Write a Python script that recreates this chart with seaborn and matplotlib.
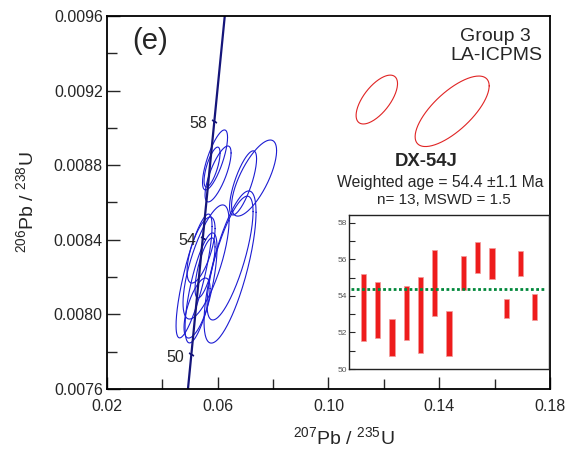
import numpy as np
import seaborn as sns
import matplotlib.pyplot as plt
from matplotlib.ticker import MultipleLocator, FixedLocator, FormatStrFormatter

# concordia curve (age in Ma -> ratios)
conc_age = [46, 50, 54, 58, 62]
conc_x = [0.046345, 0.050475, 0.054622, 0.058784, 0.062963]
conc_y = [0.0071613, 0.0077864, 0.0084119, 0.0090379, 0.0096642]
label_age = [50, 54, 58]

# analyses used (blue) : 207Pb/235U, 206Pb/238U, half extents, correlation
pb207 = [0.05902, 0.05794, 0.06011, 0.07312, 0.06914, 0.06444, 0.06444,
         0.05577, 0.05144, 0.05397, 0.05397, 0.05252, 0.05541]
pb206 = [0.008828, 0.008790, 0.008753, 0.008731, 0.008705, 0.008254, 0.008302,
         0.008281, 0.008206, 0.008142, 0.008345, 0.008034, 0.008249]
err207 = [0.00452, 0.00289, 0.00470, 0.00813, 0.00488, 0.00939, 0.00831,
          0.00831, 0.00650, 0.00578, 0.00506, 0.00470, 0.00361]
err206 = [0.000161, 0.000107, 0.000150, 0.000204, 0.000172, 0.000408, 0.000332,
          0.000306, 0.000332, 0.000295, 0.000177, 0.000161, 0.000161]
rho = [0.75, 0.7, 0.75, 0.72, 0.75, 0.72, 0.75, 0.72, 0.8, 0.72, 0.65, 0.65, 0.7]

# rejected analyses (red)
rej207 = [0.11745, 0.14466]
rej206 = [0.009152, 0.009089]
rej_err207 = [0.00748, 0.01337]
rej_err206 = [0.000131, 0.000189]
rej_rho = [0.65, 0.72]

# inset: 206Pb/238U ages (Ma), low and high of each bar
age_lo = [51.55, 51.68, 50.69, 51.58, 50.89, 52.88, 50.69, 54.35, 55.28, 54.94, 52.79, 55.12, 52.68]
age_hi = [55.23, 54.79, 52.73, 54.54, 55.03, 56.54, 53.17, 56.21, 56.94, 56.61, 53.83, 56.45, 54.10]
mean_age = 54.4

x_major = [0.02, 0.06, 0.10, 0.14, 0.18]
x_minor = [0.04, 0.08, 0.12, 0.16]

sns.set_theme(style="ticks")
plt.rcParams['font.family'] = ['Liberation Sans', 'DejaVu Sans']
plt.rcParams['mathtext.fontset'] = 'custom'
plt.rcParams['mathtext.rm'] = 'Liberation Sans'
plt.rcParams['mathtext.it'] = 'Liberation Sans:italic'
plt.rcParams['mathtext.bf'] = 'Liberation Sans:bold'


def ellipse_xy(cx, cy, hx, hy, r):
    t = np.linspace(0, 2 * np.pi, 200)
    x = cx + hx * np.cos(t)
    y = cy + hy * (r * np.cos(t) + np.sqrt(1 - r ** 2) * np.sin(t))
    return x, y


fig = plt.figure(figsize=(5.79, 4.53), dpi=100)
ax = fig.add_axes([0.1848, 0.1413, 0.7651, 0.8234])

for i in range(len(pb207)):
    ex, ey = ellipse_xy(pb207[i], pb206[i], err207[i], err206[i], rho[i])
    ax.plot(ex, ey, color="#1c1cd2", lw=0.8)
for i in range(len(rej207)):
    ex, ey = ellipse_xy(rej207[i], rej206[i], rej_err207[i], rej_err206[i], rej_rho[i])
    ax.plot(ex, ey, color="#e02424", lw=0.8)

sns.lineplot(x=conc_x, y=conc_y, sort=False, ax=ax, color="#15157a", lw=1.6)
for a in label_age:
    i = conc_age.index(a)
    ax.plot(conc_x[i], conc_y[i], marker=(2, 2, 60), ms=4, color="#15157a", mew=1)
    ax.annotate(str(a), (conc_x[i], conc_y[i]), xytext=(-5, -2), textcoords="offset points",
                ha="right", va="center", fontsize=11.5)

ax.set_xlim(0.02, 0.18)
ax.set_ylim(0.0076, 0.0096)
ax.xaxis.set_major_locator(FixedLocator(x_major))
ax.xaxis.set_minor_locator(FixedLocator(x_minor))
ax.yaxis.set_major_locator(MultipleLocator(0.0004))
ax.yaxis.set_minor_locator(MultipleLocator(0.0002))
ax.xaxis.set_major_formatter(FormatStrFormatter("%.2f"))
ax.yaxis.set_major_formatter(FormatStrFormatter("%.4f"))
ax.tick_params(which="both", direction="in", top=False, right=False, width=1.0, labelsize=11.5)
ax.tick_params(which="major", length=9)
ax.tick_params(which="minor", length=7)
ax.tick_params(axis="x", pad=7)
ax.tick_params(axis="y", pad=3)
for s in ax.spines.values():
    s.set_linewidth(1.3)
    s.set_color("black")

ax.set_xlabel(r"$^{207}$Pb / $^{235}$U", fontsize=14)
ax.set_ylabel(r"$^{206}$Pb / $^{238}$U", fontsize=14)
ax.xaxis.set_label_coords(0.535, -0.129)
ax.xaxis.label.set_va("center")
ax.yaxis.set_label_coords(-0.183, 0.5)
ax.yaxis.label.set_va("center")

ax.text(0.0564, 0.934, "(e)", transform=ax.transAxes, fontsize=21, ha="left", va="center")
ax.text(0.876, 0.944, "Group 3", transform=ax.transAxes, fontsize=14, ha="center", va="center")
ax.text(0.878, 0.893, "LA-ICPMS", transform=ax.transAxes, fontsize=14, ha="center", va="center")
ax.text(0.720, 0.609, "DX-54J", transform=ax.transAxes, fontsize=13.3, fontweight="bold",
        ha="center", va="center")
ax.text(0.752, 0.553, "Weighted age = 54.4 \u00b11.1 Ma", transform=ax.transAxes, fontsize=11.3,
        ha="center", va="center")
ax.text(0.761, 0.507, "n= 13, MSWD = 1.5", transform=ax.transAxes, fontsize=11,
        ha="center", va="center")

# inset weighted mean plot
ins = fig.add_axes([0.6028, 0.1854, 0.3454, 0.3406])
ins.set_facecolor("white")
pos = np.arange(1, len(age_lo) + 1)
heights = [h - l for h, l in zip(age_hi, age_lo)]
ins.bar(pos, heights, bottom=age_lo, width=0.37, color="#ee1c1c", edgecolor="#f39a9a", lw=0.5)
ins.hlines(mean_age, 0.15, 13.75, colors="#00883a", lw=2, linestyles=(0, (1, 0.9)))
ins.set_xlim(0, 14)
ins.set_ylim(50, 58.45)
ins.set_xticks([])
ins.yaxis.set_major_locator(MultipleLocator(2))
ins.yaxis.set_minor_locator(MultipleLocator(1))
ins.tick_params(axis="y", which="both", direction="in", length=4, width=0.8,
                labelsize=6, labelcolor="#555555", pad=1.5)
for s in ins.spines.values():
    s.set_linewidth(1.0)
    s.set_color("#222222")

fig.savefig("out.png", dpi=100)
